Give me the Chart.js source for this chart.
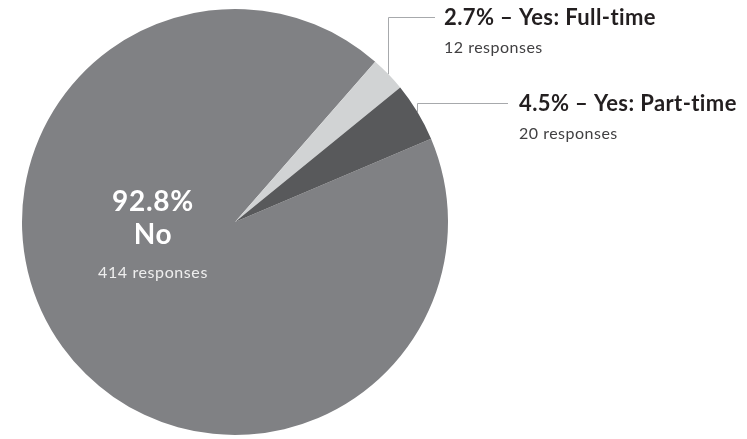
<!DOCTYPE html>
<html>
<head>
<meta charset="utf-8">
<script src="https://cdn.jsdelivr.net/npm/chart.js@4"></script>
<style>
  html, body { margin: 0; padding: 0; background: #fff; }
  #wrap { width: 747px; height: 439px; position: relative; }
</style>
</head>
<body>
<div id="wrap"><canvas id="pie"></canvas></div>
<script>
// Survey answers and their response counts
const categories = ['No', 'Yes: Full-time', 'Yes: Part-time'];
const responses = [414, 12, 20];
const sliceColors = ['#808184', '#d1d3d4', '#58595b'];

const total = responses.reduce((a, b) => a + b, 0);
const percents = responses.map(v => (v / total * 100).toFixed(1) + '%');

const FONT = 'Lato, "Open Sans", sans-serif';

// Draws the inside label for "No" and leader-line callouts for the two "Yes" slices
const calloutPlugin = {
  id: 'callouts',
  afterDatasetsDraw(chart) {
    const ctx = chart.ctx;
    const arcs = chart.getDatasetMeta(0).data;
    const cx = arcs[0].x, cy = arcs[0].y;

    ctx.save();
    // Inside label for the large slice
    ctx.textAlign = 'center';
    ctx.textBaseline = 'alphabetic';
    ctx.fillStyle = '#ffffff';
    ctx.font = 'bold 28px ' + FONT;
    ctx.letterSpacing = '0.7px';
    ctx.fillText(percents[0], cx - 82, cy - 11);
    ctx.fillText(categories[0], cx - 82, cy + 22);
    ctx.fillStyle = '#eeeeee';
    ctx.font = '16px ' + FONT;
    ctx.letterSpacing = '0.6px';
    ctx.fillText(responses[0] + ' responses', cx - 82, cy + 56);

    // Callouts: [slice index, label line y, line end x, text x]
    const callouts = [[1, 17.5, 435, 444], [2, 103.5, 508, 519]];
    callouts.forEach(([i, ly, lx, tx]) => {
      const arc = arcs[i];
      const mid = (arc.startAngle + arc.endAngle) / 2;
      const ax = arc.x + Math.cos(mid) * arc.outerRadius;
      const ay = arc.y + Math.sin(mid) * arc.outerRadius;
      const vx = Math.round(ax) + 0.5;
      ctx.strokeStyle = '#a7a9ac';
      ctx.lineWidth = 1;
      ctx.beginPath();
      ctx.moveTo(vx, ay);
      ctx.lineTo(vx, ly);
      ctx.lineTo(lx, ly);
      ctx.stroke();

      ctx.textAlign = 'left';
      ctx.textBaseline = 'alphabetic';
      ctx.fillStyle = '#231f20';
      ctx.font = 'bold 22px ' + FONT;
      ctx.letterSpacing = '0.4px';
      ctx.fillText(percents[i] + ' \u2013 ' + categories[i], tx, ly + 7.5);
      ctx.fillStyle = '#414042';
      ctx.font = '16px ' + FONT;
      ctx.letterSpacing = '0.5px';
      ctx.fillText(responses[i] + ' responses', tx, ly + 35.5);
    });
    ctx.restore();
  }
};

new Chart(document.getElementById('pie'), {
  type: 'pie',
  data: {
    labels: categories,
    datasets: [{
      data: responses,
      backgroundColor: sliceColors,
      borderWidth: 0,
      hoverOffset: 0
    }]
  },
  options: {
    responsive: true,
    maintainAspectRatio: false,
    animation: false,
    rotation: 67,
    layout: { padding: { top: 9, bottom: 4, left: 22, right: 299 } },
    plugins: {
      legend: { display: false },
      tooltip: { enabled: false }
    },
    events: []
  },
  plugins: [calloutPlugin]
});
</script>
</body>
</html>
